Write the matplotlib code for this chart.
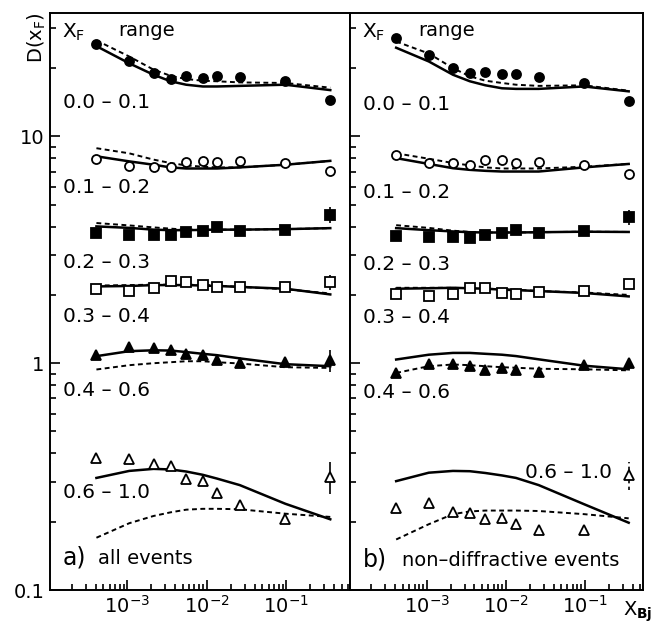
import matplotlib
matplotlib.use("Agg")
import matplotlib.pyplot as plt
import matplotlib.ticker as mticker
import numpy as np

# x_Bj bins (same for both panels)
x_bj = [4.1e-4, 1.06e-3, 2.14e-3, 3.5e-3, 5.5e-3, 8.9e-3, 1.34e-2, 2.6e-2, 9.7e-2, 0.356]

# ---- panel a) all events ----
a_00 = [25.5, 21.4, 19.0, 17.9, 18.4, 18.1, 18.5, 18.2, 17.5, 14.5]
a_00_fit = [25.0, 21.0, 18.7, 17.5, 16.9, 16.6, 16.6, 16.7, 16.9, 16.0]
a_00_dash = [26.5, 22.5, 19.7, 18.5, 17.9, 17.6, 17.5, 17.3, 17.2, 16.4]

a_01 = [7.97, 7.38, 7.33, 7.33, 7.70, 7.76, 7.70, 7.76, 7.63, 7.06]
a_01_fit = [8.17, 7.76, 7.50, 7.30, 7.22, 7.22, 7.22, 7.30, 7.50, 7.80]
a_01_dash = [8.87, 8.42, 7.90, 7.63, 7.45, 7.35, 7.30, 7.30, 7.50, 7.80]

a_02 = [3.75, 3.66, 3.66, 3.66, 3.79, 3.84, 3.97, 3.81, 3.88, 4.52]
a_02_err = [0, 0, 0, 0, 0, 0, 0, 0, 0, 0.35]
a_02_fit = [4.01, 3.95, 3.88, 3.86, 3.86, 3.87, 3.88, 3.88, 3.90, 3.94]
a_02_dash = [4.15, 4.05, 3.97, 3.92, 3.88, 3.87, 3.88, 3.88, 3.90, 3.94]

a_03 = [2.12, 2.09, 2.15, 2.30, 2.28, 2.21, 2.17, 2.16, 2.17, 2.28]
a_03_err = [0, 0, 0, 0, 0, 0, 0, 0, 0, 0.17]
a_03_fit = [2.18, 2.19, 2.21, 2.21, 2.21, 2.20, 2.19, 2.17, 2.13, 2.01]
a_03_dash = [2.20, 2.21, 2.22, 2.22, 2.22, 2.21, 2.20, 2.17, 2.12, 2.03]

a_04 = [1.092, 1.176, 1.168, 1.149, 1.103, 1.092, 1.038, 0.997, 1.013, 1.028]
a_04_err = [0, 0, 0, 0, 0, 0, 0, 0, 0, 0.11]
a_04_fit = [1.074, 1.13, 1.14, 1.137, 1.12, 1.10, 1.085, 1.05, 0.99, 0.97]
a_04_dash = [0.938, 0.98, 1.0, 1.01, 1.02, 1.02, 1.01, 0.997, 0.96, 0.953]

a_06 = [0.383, 0.379, 0.358, 0.352, 0.309, 0.302, 0.268, 0.236, 0.206, 0.315]
a_06_err = [0, 0, 0, 0, 0, 0, 0, 0, 0, 0.05]
a_06_fit = [0.312, 0.335, 0.342, 0.34, 0.333, 0.322, 0.31, 0.29, 0.24, 0.205]
a_06_dash = [0.17, 0.197, 0.212, 0.22, 0.226, 0.228, 0.228, 0.227, 0.217, 0.21]

# ---- panel b) non-diffractive events ----
b_00 = [27.1, 22.9, 20.0, 19.0, 19.3, 18.8, 18.9, 18.2, 17.2, 14.3]
b_00_fit = [24.6, 21.4, 18.7, 17.5, 16.8, 16.3, 16.2, 16.2, 16.6, 15.8]
b_00_dash = [26.2, 23.2, 20.0, 18.4, 17.6, 17.2, 16.9, 16.7, 16.8, 15.9]

b_01 = [8.25, 7.63, 7.63, 7.50, 7.89, 7.89, 7.63, 7.70, 7.45, 6.82]
b_01_fit = [8.02, 7.56, 7.24, 7.12, 7.05, 7.0, 7.0, 7.0, 7.3, 7.56]
b_01_dash = [8.42, 7.97, 7.63, 7.45, 7.30, 7.22, 7.22, 7.22, 7.35, 7.56]

b_02 = [3.63, 3.59, 3.59, 3.56, 3.66, 3.75, 3.88, 3.75, 3.81, 4.40]
b_02_err = [0, 0, 0, 0, 0, 0, 0, 0, 0, 0.33]
b_02_fit = [3.94, 3.86, 3.81, 3.78, 3.77, 3.77, 3.77, 3.78, 3.80, 3.79]
b_02_dash = [4.06, 3.95, 3.84, 3.79, 3.77, 3.77, 3.77, 3.78, 3.80, 3.79]

b_03 = [2.02, 1.97, 2.02, 2.15, 2.15, 2.04, 2.02, 2.06, 2.09, 2.24]
b_03_err = [0, 0, 0, 0, 0, 0, 0, 0, 0, 0.1]
b_03_fit = [2.13, 2.14, 2.15, 2.14, 2.13, 2.11, 2.10, 2.08, 2.04, 1.97]
b_03_dash = [2.15, 2.15, 2.15, 2.14, 2.13, 2.12, 2.11, 2.08, 2.05, 2.0]

b_04 = [0.906, 0.993, 0.987, 0.970, 0.938, 0.948, 0.938, 0.915, 0.98, 1.003]
b_04_fit = [1.038, 1.09, 1.11, 1.11, 1.10, 1.09, 1.075, 1.04, 0.975, 0.94]
b_04_dash = [0.906, 0.97, 0.987, 0.98, 0.97, 0.96, 0.955, 0.945, 0.94, 0.93]

b_06 = [0.229, 0.241, 0.221, 0.218, 0.205, 0.207, 0.195, 0.183, 0.183, 0.320]
b_06_err = [0, 0, 0, 0, 0, 0, 0, 0, 0, 0.045]
b_06_fit = [0.302, 0.329, 0.335, 0.334, 0.328, 0.32, 0.312, 0.29, 0.239, 0.198]
b_06_dash = [0.167, 0.195, 0.216, 0.222, 0.224, 0.224, 0.224, 0.223, 0.216, 0.207]

range_labels = ["0.0 \u2013 0.1", "0.1 \u2013 0.2", "0.2 \u2013 0.3",
                "0.3 \u2013 0.4", "0.4 \u2013 0.6", "0.6 \u2013 1.0"]
markers = [("o", "k"), ("o", "w"), ("s", "k"), ("s", "w"), ("^", "k"), ("^", "w")]

W, H = 655, 637
fig = plt.figure(figsize=(W / 100, H / 100), dpi=100)
top, bot = 13, 590
ax1 = fig.add_axes([50 / W, 1 - bot / H, 300 / W, (bot - top) / H])
ax2 = fig.add_axes([350 / W, 1 - bot / H, 293 / W, (bot - top) / H])

FS = 14.5


def draw_panel(ax, series, errs, xmax):
    for (pts, fit, dash), (m, fc), err in zip(series, markers, errs):
        ax.plot(x_bj, fit, "-", color="k", lw=1.8, zorder=2)
        ax.plot(x_bj, dash, color="k", lw=1.4, ls=(0, (2.5, 1.8)), zorder=2)
        ms = 6.5 if m != "^" else 7
        ax.plot(x_bj, pts, ls="none", marker=m, ms=ms, mfc=fc, mec="k",
                mew=1.3, zorder=3)
        if err is not None:
            ax.errorbar(x_bj[-1:], pts[-1:], yerr=err[-1:], fmt="none",
                        ecolor="k", elinewidth=1.2, zorder=2)
    ax.set_xscale("log")
    ax.set_yscale("log")
    ax.set_xlim(1.07e-4, xmax)
    ax.set_ylim(0.1, 35)
    ax.xaxis.set_major_locator(mticker.FixedLocator([1e-3, 1e-2, 1e-1]))
    ax.xaxis.set_major_formatter(mticker.FixedFormatter(
        [r"$10^{-3}$", r"$10^{-2}$", r"$10^{-1}$"]))
    ax.xaxis.set_minor_locator(mticker.LogLocator(base=10, subs=np.arange(2, 10)))
    ax.xaxis.set_minor_formatter(mticker.NullFormatter())
    ax.yaxis.set_major_locator(mticker.FixedLocator([0.1, 1, 10]))
    ax.yaxis.set_minor_locator(mticker.LogLocator(base=10, subs=np.arange(2, 10)))
    ax.yaxis.set_minor_formatter(mticker.NullFormatter())
    ax.tick_params(which="both", direction="in", top=False, right=False,
                   labelsize=14, width=1.2)
    ax.tick_params(which="major", length=7)
    ax.tick_params(which="minor", length=4)
    for s in ax.spines.values():
        s.set_linewidth(1.4)


series_a = [(a_00, a_00_fit, a_00_dash), (a_01, a_01_fit, a_01_dash),
            (a_02, a_02_fit, a_02_dash), (a_03, a_03_fit, a_03_dash),
            (a_04, a_04_fit, a_04_dash), (a_06, a_06_fit, a_06_dash)]
errs_a = [None, None, a_02_err, a_03_err, a_04_err, a_06_err]
series_b = [(b_00, b_00_fit, b_00_dash), (b_01, b_01_fit, b_01_dash),
            (b_02, b_02_fit, b_02_dash), (b_03, b_03_fit, b_03_dash),
            (b_04, b_04_fit, b_04_dash), (b_06, b_06_fit, b_06_dash)]
errs_b = [None, None, b_02_err, b_03_err, None, None]

draw_panel(ax1, series_a, errs_a, 0.63)
draw_panel(ax2, series_b, errs_b, 0.54)

# dashed error bar on last open triangle of panel b
eb = ax2.errorbar(x_bj[-1:], b_06[-1:], yerr=b_06_err[-1:], fmt="none",
                  ecolor="k", elinewidth=1.2, zorder=2)
eb[2][0].set_linestyle((0, (2, 2)))

ax1.yaxis.set_major_formatter(mticker.FixedFormatter(["0.1", "1", "10"]))
ax2.yaxis.set_major_formatter(mticker.NullFormatter())
ax1.tick_params(axis="y", pad=4)

# text labels, positions in figure pixels
label_y_a = [103, 188, 262, 317, 390, 493]
label_y_b = [105, 192, 265, 318, 393]
for lbl, py in zip(range_labels, label_y_a):
    fig.text(63 / W, 1 - py / H, lbl, fontsize=FS, va="center")
for lbl, py in zip(range_labels[:5], label_y_b):
    fig.text(363 / W, 1 - py / H, lbl, fontsize=FS, va="center")
fig.text(612 / W, 1 - 472 / H, range_labels[5], fontsize=FS, va="center", ha="right")

for x0 in (62, 362):
    fig.text(x0 / W, 1 - 32 / H, r"X$_{\rm F}$", fontsize=FS, va="center")
    fig.text((x0 + 56) / W, 1 - 30 / H, "range", fontsize=14, va="center")

fig.text(63 / W, 1 - 557 / H, "a)", fontsize=17, va="center")
fig.text(98 / W, 1 - 558 / H, "all events", fontsize=14, va="center")
fig.text(363 / W, 1 - 560 / H, "b)", fontsize=17, va="center")
fig.text(402 / W, 1 - 561 / H, "non\u2013diffractive events", fontsize=14,
         va="center")

fig.text(37 / W, 1 - 38 / H, r"D(x$_{\rm F}$)", fontsize=14, rotation=90,
         va="center", ha="center")
fig.text(638 / W, 1 - 612 / H, r"X$_{\bf Bj}$", fontsize=14, va="center",
         ha="center")

fig.savefig("out.png", dpi=100)
